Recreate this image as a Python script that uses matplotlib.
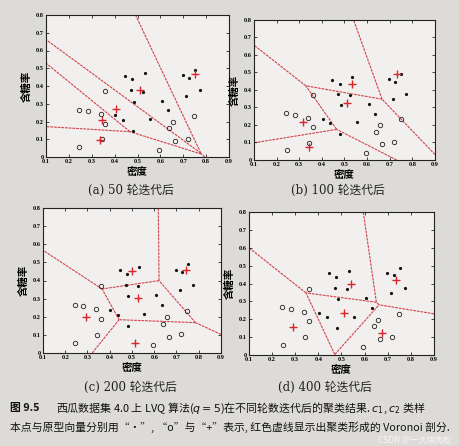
import numpy as np
import matplotlib.pyplot as plt

### Data: watermelon dataset 4.0 ###
density = [0.697, 0.774, 0.634, 0.608, 0.556, 0.403, 0.481, 0.437, 0.666, 0.243,
           0.245, 0.343, 0.639, 0.657, 0.360, 0.593, 0.719, 0.359, 0.339, 0.282,
           0.748, 0.714, 0.483, 0.478, 0.525, 0.751, 0.532, 0.473, 0.725, 0.446]
sugar = [0.460, 0.376, 0.264, 0.318, 0.215, 0.237, 0.149, 0.211, 0.091, 0.267,
         0.057, 0.099, 0.161, 0.198, 0.370, 0.042, 0.103, 0.188, 0.241, 0.257,
         0.232, 0.346, 0.312, 0.437, 0.369, 0.489, 0.472, 0.376, 0.445, 0.459]
klass = [1]*8 + [2]*13 + [1]*9   # samples 9-21 are class c2

# prototype vectors
proto_x_50 = [0.336, 0.345, 0.406, 0.510, 0.750]
proto_y_50 = [0.095, 0.210, 0.268, 0.378, 0.466]
proto_x_100 = [0.345, 0.315, 0.510, 0.535, 0.733]
proto_y_100 = [0.075, 0.218, 0.325, 0.435, 0.490]
proto_x_200 = [0.295, 0.515, 0.527, 0.500, 0.742]
proto_y_200 = [0.200, 0.055, 0.305, 0.455, 0.457]
proto_x_400 = [0.291, 0.512, 0.673, 0.540, 0.736]
proto_y_400 = [0.155, 0.235, 0.124, 0.398, 0.420]

titles = ['(a) 50 轮迭代后', '(b) 100 轮迭代后', '(c) 200 轮迭代后', '(d) 400 轮迭代后']
x_ticks = [0.1, 0.2, 0.3, 0.4, 0.5, 0.6, 0.7, 0.8, 0.9]
y_ticks = [0, 0.1, 0.2, 0.3, 0.4, 0.5, 0.6, 0.7, 0.8]

### Layout (pixels in a 460x446 figure) ###
W, H = 460, 446
boxes = [(46, 229, 15, 157), (254, 435, 20, 160), (43, 221, 208, 353), (249, 434, 212, 355)]
title_pos = [(131, 190), (338, 190), (130, 387), (325, 387)]

XMIN, XMAX, YMIN, YMAX = 0.1, 0.9, 0.0, 0.8
LINE_RED = '#d2434c'
PLUS_RED = '#d8262e'


def clip(poly, p, q):
    # keep the part of poly that is closer to p than to q
    m = (p + q) / 2
    n = q - p
    out = []
    for k in range(len(poly)):
        a = poly[k]
        b = poly[(k + 1) % len(poly)]
        fa = np.dot(a - m, n)
        fb = np.dot(b - m, n)
        if fa <= 0:
            out.append(a)
        if fa * fb < 0:
            t = fa / (fa - fb)
            out.append(a + t * (b - a))
    return out


def voronoi_edges(px, py):
    pts = np.array([px, py]).T
    edges = []
    for i in range(len(pts)):
        cell = [np.array(v, float) for v in [(XMIN, YMIN), (XMAX, YMIN), (XMAX, YMAX), (XMIN, YMAX)]]
        for j in range(len(pts)):
            if j != i:
                cell = clip(cell, pts[i], pts[j])
        for k in range(len(cell)):
            a = cell[k]
            b = cell[(k + 1) % len(cell)]
            if np.hypot(*(b - a)) < 1e-9:
                continue
            mid = (a + b) / 2
            if (abs(mid[0] - XMIN) < 1e-9 or abs(mid[0] - XMAX) < 1e-9
                    or abs(mid[1] - YMIN) < 1e-9 or abs(mid[1] - YMAX) < 1e-9):
                continue
            di = np.hypot(*(mid - pts[i]))
            for j in range(len(pts)):
                if j > i and abs(np.hypot(*(mid - pts[j])) - di) < 1e-7:
                    edges.append((a, b))
    return edges


fig = plt.figure(figsize=(W / 100, H / 100), dpi=100, facecolor='#dddbd8')

cjk = ['Noto Sans CJK SC', 'DejaVu Sans']
serif_cjk = ['DejaVu Serif', 'Noto Sans CJK SC']

dens = np.array(density)
sug = np.array(sugar)
cls = np.array(klass)
protos = [(proto_x_50, proto_y_50), (proto_x_100, proto_y_100),
          (proto_x_200, proto_y_200), (proto_x_400, proto_y_400)]

for n in range(4):
    l, r, t, b = boxes[n]
    ax = fig.add_axes([l / W, 1 - b / H, (r - l) / W, (b - t) / H])
    ax.set_facecolor('#f1f0ee')

    for a, bb in voronoi_edges(*protos[n]):
        ax.plot([a[0], bb[0]], [a[1], bb[1]], color=LINE_RED, lw=0.8,
                linestyle=(0, (2.5, 0.8)), zorder=1)

    ax.plot(dens[cls == 1], sug[cls == 1], 'o', color='#111111', ms=2.3, mew=0, zorder=3)
    ax.plot(dens[cls == 2], sug[cls == 2], 'o', mfc='none', mec='#222222', ms=3.2, mew=0.6, zorder=3)
    ax.plot(protos[n][0], protos[n][1], '+', color=PLUS_RED, ms=6, mew=1.0, zorder=4)

    ax.set_xlim(XMIN, XMAX)
    ax.set_ylim(YMIN, YMAX)
    ax.set_xticks(x_ticks)
    ax.set_yticks(y_ticks)
    ax.set_xticklabels([f'{v:g}' for v in x_ticks], fontsize=4.5, fontweight='bold', family='Liberation Serif')
    ax.set_yticklabels([f'{v:g}' for v in y_ticks], fontsize=4.5, fontweight='bold', family='Liberation Serif')
    ax.tick_params(direction='in', length=2, width=0.5, top=True, right=True, pad=1.5)
    for s in ax.spines.values():
        s.set_linewidth(0.8)
        s.set_color('#222222')
    ax.set_xlabel('密度', family=cjk, fontsize=7.5, fontweight='bold', labelpad=2)
    ax.set_ylabel('含糖率', family=cjk, fontsize=7.5, fontweight='bold', labelpad=3)

    tx, ty = title_pos[n]
    fig.text(tx / W, 1 - ty / H, titles[n], family=serif_cjk, fontsize=8.5,
             ha='center', va='center', color='#222222')

fig.text(10 / W, 1 - 408 / H, '图 9.5', family=cjk, fontsize=7.8, fontweight='bold',
         ha='left', va='center', color='#111111')
fig.text(56 / W, 1 - 408 / H, '西瓜数据集 4.0 上 LVQ 算法($q=5$)在不同轮数迭代后的聚类结果. $c_1$, $c_2$ 类样',
         family=cjk, fontsize=7.9, ha='left', va='center', color='#111111')
fig.text(10 / W, 1 - 427 / H, '本点与原型向量分别用“•”, “o”与“+”表示, 红色虚线显示出聚类形成的 Voronoi 剖分.',
         family=cjk, fontsize=7.8, ha='left', va='center', color='#111111')
fig.text(452 / W, 1 - 440.5 / H, 'CSDN @一大块肉松', family=cjk, fontsize=6,
         ha='right', va='center', color='#ffffff', alpha=0.75)

fig.savefig('out.png', dpi=100, facecolor=fig.get_facecolor())
